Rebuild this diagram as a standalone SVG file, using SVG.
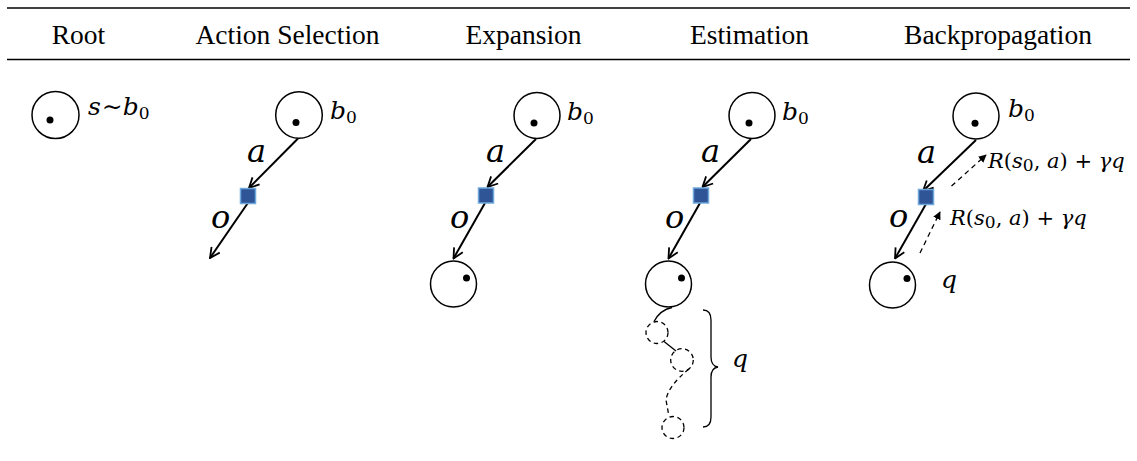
<svg xmlns="http://www.w3.org/2000/svg" width="1137" height="461" viewBox="0 0 1137 461">
<defs>
<style>
.hdr{font-family:"Liberation Serif","Times New Roman",serif;font-size:27.5px;fill:#000;text-anchor:middle}
.rule{stroke:#000;stroke-width:1.5}
.node{fill:#fff;stroke:#000;stroke-width:1.5}
.dash{fill:none;stroke:#000;stroke-width:1.3;stroke-dasharray:4.5 3.5}
.dot{fill:#000}
.act{fill:#2f5597;stroke:#6fa8dc;stroke-width:1.5}
.edge{fill:none;stroke:#000;stroke-width:2;marker-end:url(#open)}
.back{fill:none;stroke:#000;stroke-width:1.3;stroke-dasharray:5 4;marker-end:url(#tri)}
.m{font-family:"DejaVu Serif",serif;font-style:italic;fill:#000}
.big{font-size:32px}
.lab{font-size:25px}
.sub{font-style:normal;font-size:17px}
.up{font-style:normal}
.rl{font-size:21px}
.line{fill:none;stroke:#000;stroke-width:1.3}
</style>
<marker id="open" viewBox="0 0 12 12" refX="11" refY="6" markerWidth="12" markerHeight="12" markerUnits="userSpaceOnUse" orient="auto">
<path d="M1,1 L11,6 L1,11" fill="none" stroke="#000" stroke-width="1.8"/>
</marker>
<marker id="tri" viewBox="0 0 10 10" refX="9" refY="5" markerWidth="8" markerHeight="8" markerUnits="userSpaceOnUse" orient="auto">
<path d="M0,0 L10,5 L0,10 Z" fill="#000"/>
</marker>
</defs>
<rect width="1137" height="461" fill="#fff"/>

<g id="header">
<line class="rule" x1="7" y1="8" x2="1130" y2="8"/>
<line class="rule" x1="7" y1="59.5" x2="1130" y2="59.5"/>
<text class="hdr" x="78.5" y="44">Root</text>
<text class="hdr" x="287.5" y="44">Action Selection</text>
<text class="hdr" x="523.5" y="44">Expansion</text>
<text class="hdr" x="749.5" y="44">Estimation</text>
<text class="hdr" x="998" y="44">Backpropagation</text>
</g>

<g id="connectors">
<path class="edge" d="M298,138.5 L249,188"/>
<path class="edge" d="M247.5,203.5 L210,258"/>
<path class="edge" d="M536,139 L487.5,187"/>
<path class="edge" d="M485,203 L453.5,258.5"/>
<path class="edge" d="M751,139 L702.5,187"/>
<path class="edge" d="M700,203 L668.5,258.5"/>
<path class="edge" d="M976,140 L923,191"/>
<path class="edge" d="M926,204 L895,258.5"/>
<path class="back" d="M951.5,186 L986,155"/>
<path class="back" d="M920,253 L940,212"/>
<path class="line" d="M672,307.5 Q660,310 654,321.5"/>
<path class="line" d="M664,341.5 L676,351"/>
<path class="dash" d="M689,369 Q668,386 666,400 L669,416.5"/>
</g>

<g id="root">
<circle class="node" cx="55.5" cy="115" r="23.5"/>
<circle class="dot" cx="50" cy="120" r="3.5"/>
<text class="m lab" x="88" y="115">s<tspan class="up" dx="1">∼</tspan>b<tspan class="sub" dy="4">0</tspan></text>
</g>

<g id="action-selection">
<circle class="node" cx="299" cy="115" r="23.3"/>
<circle class="dot" cx="296" cy="122.5" r="3.5"/>
<text class="m lab" x="330" y="119">b<tspan class="sub" dy="4">0</tspan></text>
<rect class="act" x="240.5" y="188.5" width="15" height="15"/>
<text class="m big" x="247" y="162">a</text>
<text class="m big" x="211" y="228">o</text>
</g>

<g id="expansion">
<circle class="node" cx="537" cy="115.5" r="23"/>
<circle class="dot" cx="534" cy="123" r="3.5"/>
<text class="m lab" x="567" y="120">b<tspan class="sub" dy="4">0</tspan></text>
<rect class="act" x="478.5" y="188" width="15" height="15"/>
<text class="m big" x="486" y="162">a</text>
<text class="m big" x="450" y="228">o</text>
<circle class="node" cx="453.5" cy="284" r="23"/>
<circle class="dot" cx="466.5" cy="278" r="3.5"/>
</g>

<g id="estimation">
<circle class="node" cx="752" cy="115.5" r="23"/>
<circle class="dot" cx="749" cy="123" r="3.5"/>
<text class="m lab" x="782" y="120">b<tspan class="sub" dy="4">0</tspan></text>
<rect class="act" x="693.5" y="188" width="15" height="15"/>
<text class="m big" x="701" y="162">a</text>
<text class="m big" x="665" y="228">o</text>
<circle class="node" cx="668.5" cy="284" r="23"/>
<circle class="dot" cx="681.5" cy="278" r="3.5"/>
<circle class="dash" cx="657" cy="332.5" r="11"/>
<circle class="dash" cx="682" cy="360" r="11.3"/>
<circle class="dash" cx="673" cy="427.5" r="11"/>
<path class="line" d="M703,310 Q711,310 711,320 L711,357 Q711,366 718,367 Q711,368 711,377 L711,417 Q711,427 703,427"/>
<text class="m lab" x="732" y="367">q</text>
</g>

<g id="backpropagation">
<circle class="node" cx="976" cy="116" r="23"/>
<circle class="dot" cx="975" cy="123.3" r="3.5"/>
<text class="m lab" x="1008" y="117">b<tspan class="sub" dy="4">0</tspan></text>
<rect class="act" x="918.5" y="189.5" width="15" height="15"/>
<text class="m big" x="917" y="163">a</text>
<text class="m big" x="889" y="227">o</text>
<circle class="node" cx="892.5" cy="285" r="23"/>
<circle class="dot" cx="907" cy="278.5" r="3.5"/>
<text class="m lab" x="941" y="288">q</text>
<text class="m rl" x="988" y="168">R<tspan class="up">(</tspan>s<tspan class="sub" font-size="14" dy="3">0</tspan><tspan class="up" dy="-3">, </tspan>a<tspan class="up">) + </tspan>γq</text>
<text class="m rl" x="950" y="225">R<tspan class="up">(</tspan>s<tspan class="sub" font-size="14" dy="3">0</tspan><tspan class="up" dy="-3">, </tspan>a<tspan class="up">) + </tspan>γq</text>
</g>
</svg>
